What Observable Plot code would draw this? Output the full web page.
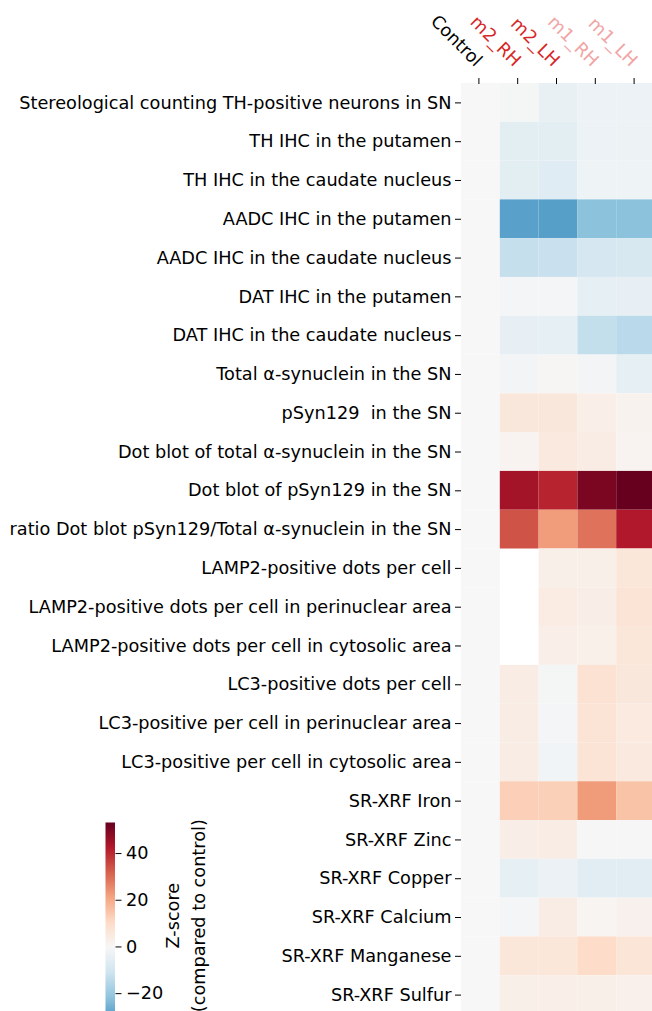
<!DOCTYPE html>
<html><head><meta charset="utf-8">
<script src="https://cdn.jsdelivr.net/npm/d3@7"></script>
<script src="https://cdn.jsdelivr.net/npm/@observablehq/plot@0.6"></script>
<style>
html,body{margin:0;padding:0;background:#fff;overflow:hidden;}
#wrap{position:relative;width:652px;height:1011px;overflow:hidden;}
#main,#cbar{position:absolute;left:0;}
#main{top:0}
#cbar{top:821.7px}
svg text{white-space:pre;}
svg{max-width:none !important;}
</style></head><body><div id="wrap"><div id="main"></div><div id="cbar"></div></div>
<script>
const groups = ["Control","m2_RH","m2_LH","m1_RH","m1_LH"];
const measures = [
  "Stereological counting TH-positive neurons in SN",
  "TH IHC in the putamen",
  "TH IHC in the caudate nucleus",
  "AADC IHC in the putamen",
  "AADC IHC in the caudate nucleus",
  "DAT IHC in the putamen",
  "DAT IHC in the caudate nucleus",
  "Total α-synuclein in the SN",
  "pSyn129  in the SN",
  "Dot blot of total α-synuclein in the SN",
  "Dot blot of pSyn129 in the SN",
  "ratio Dot blot pSyn129/Total α-synuclein in the SN",
  "LAMP2-positive dots per cell",
  "LAMP2-positive dots per cell in perinuclear area",
  "LAMP2-positive dots per cell in cytosolic area",
  "LC3-positive dots per cell",
  "LC3-positive per cell in perinuclear area",
  "LC3-positive per cell in cytosolic area",
  "SR-XRF Iron",
  "SR-XRF Zinc",
  "SR-XRF Copper",
  "SR-XRF Calcium",
  "SR-XRF Manganese",
  "SR-XRF Sulfur"
];
// Z-scores (compared to control); null = missing
const control = [0,0,0,0,0,0,0,0,0,0,0,0,0,0,0,0,0,0,0,0,0,0,0,0];
const m2_RH = [-0.8,-5.5,-5.5,-29,-12.5,-1,-4.5,-1.5,6.1,1.5,44.6,33.9,null,null,null,4,4.2,4,13,3.5,-4.7,-1,6.5,3.2];
const m2_LH = [-4,-5.5,-6.5,-29.5,-12,-1.2,-4.7,0.8,6,5.5,41,22.5,3,4.5,3.3,-0.8,-1,-2,12.8,4.3,-3.3,4,6.5,3.3];
const m1_RH = [-3.2,-3,-2.5,-22,-9.3,-5,-12.8,-1.5,3.4,4.3,50.5,29.2,3,3.5,2.8,8,7.5,7.5,22.7,-0.3,-6,1,10.3,3];
const m1_LH = [-3.2,-2.8,-2.5,-22,-9,-4.5,-14.5,-4.7,2,1.5,53.3,42.8,6.5,7.5,6.5,6,5,5.3,15.4,0.2,-5.8,2.5,7,2.7];
const colorbarTicks = [-20,0,20,40];
const labelColors = {Control:"#000000", m2:"#d62728", m1:"#f0a5a5"};

const series = {Control: control, m2_RH, m2_LH, m1_RH, m1_LH};
const table = [];
measures.forEach((m,i) => groups.forEach(g => {
  const z = series[g][i];
  if (z != null) table.push({measure:m, group:g, z});
}));
const zmax = d3.max(table, d => Math.abs(d.z));
const zmin = d3.min(table, d => d.z);

const rdbu = ["#053061","#2166ac","#4393c3","#92c5de","#d1e5f0","#f7f7f7","#fddbc7","#f4a582","#d6604d","#b2182b","#67001f"];
const interp = d3.piecewise(d3.interpolateRgb, rdbu);
const colorScale = {type:"linear", domain:[-zmax, zmax], interpolate: interp};
const font = "DejaVu Sans";
const fs = 17.7;
const fmt = d => d < 0 ? "\u2212" + (-d) : String(d);

const colLab = (ticks, fill) => Plot.axisX(ticks, {
  anchor:"top", tickSize:6, tickPadding:14, tickRotate:45, textAnchor:"end", dx:-2,
  fill, stroke:"#000", label:null, fontSize:fs
});

const main = Plot.plot({
  width: 655, height: 1014,
  marginLeft: 461, marginRight: 0, marginTop: 83, marginBottom: 0,
  style: {fontFamily: font, fontSize: fs + "px", color: "#000", background: "transparent", overflow:"visible"},
  x: {domain: groups, padding: 0, round: false, axis: null},
  y: {domain: measures, padding: 0, round: false, axis: null},
  color: colorScale,
  marks: [
    Plot.cell(table, {x:"group", y:"measure", fill:"z", inset:0}),
    Plot.axisY({anchor:"left", tickSize:6, tickPadding:4, label:null, fontSize:fs, fill:"#000"}),
    colLab(["Control"], labelColors.Control),
    colLab(["m2_RH","m2_LH"], labelColors.m2),
    colLab(["m1_RH","m1_LH"], labelColors.m1)
  ]
});
document.getElementById("main").appendChild(main);

const pxPerUnit = 2.335;
const cbH = (zmax - zmin) * pxPerUnit;
const cbar = Plot.plot({
  width: 240, height: cbH,
  marginLeft: 105, marginRight: 240 - 114.5, marginTop: 0, marginBottom: 0,
  style: {fontFamily: font, fontSize: fs + "px", color: "#000", background: "transparent", overflow:"visible"},
  x: {domain:[0,1], axis:null},
  y: {domain:[zmin, zmax], axis:null},
  color: colorScale,
  marks: [
    Plot.raster({x1:0, x2:1, y1:zmin, y2:zmax, width:1, height:400, fill:(x,y) => y}),
    Plot.axisY(colorbarTicks, {anchor:"right", tickSize:6, tickPadding:5, tickFormat: fmt, label:null, fontSize:fs}),
    Plot.text(["Z-score\n(compared to control)"], {x:1, y:(zmin+zmax)/2, rotate:-90, dx:69, dy:-3.5, lineHeight:1.47, fontSize:fs, fill:"#000"})
  ]
});
document.getElementById("cbar").appendChild(cbar);
</script></body></html>
